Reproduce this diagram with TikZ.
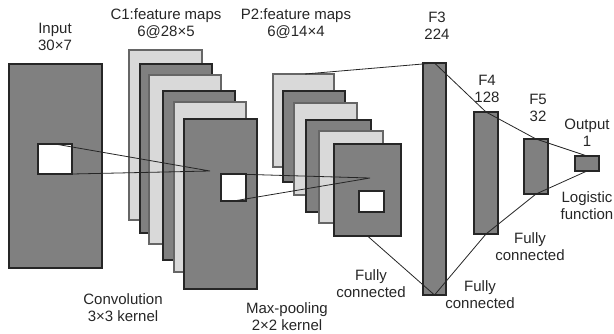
\documentclass[tikz,border=0pt]{standalone}
\usepackage{fontspec}
\setmainfont{Liberation Sans}
\definecolor{darkfill}{HTML}{808080}
\definecolor{lightfill}{HTML}{D9D9D9}
\definecolor{txt}{HTML}{262626}
\begin{document}
\begin{tikzpicture}[x=1pt,y=-1pt,
  base/.style={rectangle,inner sep=0pt,outer sep=0pt,anchor=north west,draw=black!85,line width=1.1pt},
  dk/.style={base,fill=darkfill},
  lt/.style={base,fill=lightfill,draw=black!60},
  wt/.style={base,fill=white},
  lab/.style={inner sep=0pt,text=txt,font=\fontsize{15}{17}\selectfont,align=center},
  conn/.style={draw=black!85,line width=0.8pt}]
\useasboundingbox (0,0) rectangle (614,333);
% input
\node[dk,minimum width=93pt,minimum height=204pt] (in) at (9,64) {};
\node[wt,minimum width=34pt,minimum height=30pt] (inw) at (38,144) {};
% C1 stack
\node[lt,minimum width=73pt,minimum height=170pt] (c1a) at (129,50) {};
\node[dk,minimum width=72pt,minimum height=169pt] (c1b) at (140,64) {};
\node[lt,minimum width=72pt,minimum height=169pt] (c1c) at (149,75) {};
\node[dk,minimum width=72pt,minimum height=169pt] (c1d) at (163,91) {};
\node[lt,minimum width=72pt,minimum height=170pt] (c1e) at (174,102) {};
\node[dk,minimum width=73pt,minimum height=170pt] (c1f) at (184,119) {};
\node[wt,minimum width=25pt,minimum height=27pt] (c1w) at (221,174) {};
\coordinate (c1pt) at (210,171);
% P2 stack
\node[lt,minimum width=61pt,minimum height=93pt] (p2a) at (273,74) {};
\node[dk,minimum width=62pt,minimum height=91pt] (p2b) at (283,91) {};
\node[lt,minimum width=63pt,minimum height=92pt] (p2c) at (294,103) {};
\node[dk,minimum width=65pt,minimum height=92pt] (p2d) at (306,120) {};
\node[lt,minimum width=64pt,minimum height=92pt] (p2e) at (319,131) {};
\node[dk,minimum width=67pt,minimum height=92pt] (p2f) at (334,144) {};
\node[wt,minimum width=25pt,minimum height=21pt] (p2w) at (359,191) {};
\coordinate (p2pt) at (370,178);
\coordinate (p2top) at (305,74);
% fully connected layers
\node[dk,minimum width=23pt,minimum height=232pt] (f3) at (423,63) {};
\node[dk,minimum width=24pt,minimum height=122pt] (f4) at (474,112) {};
\node[dk,minimum width=24pt,minimum height=55pt] (f5) at (524,139) {};
\node[dk,minimum width=24pt,minimum height=15pt] (out) at (575,156) {};
% connectors
\draw[conn] (inw.north) -- (c1pt) -- (inw.south east);
\draw[conn] (c1w.north) -- (p2pt) -- (c1w.south);
\draw[conn] (p2top) -- (f3.north);
\draw[conn] (f3.north) -- (f4.north) -- (f5.north) -- (out.north);
\draw[conn] (out.south) -- (f5.south) -- (f4.south) -- (f3.south) -- (p2f.south);
% labels
\node[lab] (tin) at (55,37) {Input\\30×7};
\node[lab] (tc1) at (166,24) {C1:feature maps\\6@28×5};
\node[lab] (tp2) at (296,24) {P2:feature maps\\6@14×4};
\node[lab] (tf3) at (437,26) {F3\\224};
\node[lab] (tf4) at (487,89) {F4\\128};
\node[lab] (tf5) at (538,108) {F5\\32};
\node[lab] (tout) at (587,133) {Output\\1};
\node[lab] (tlog) at (587,206) {Logistic\\function};
\node[lab] (tfc1) at (530,247) {Fully\\connected};
\node[lab] (tfc2) at (480,295) {Fully\\connected};
\node[lab] (tfc3) at (371,284) {Fully\\connected};
\node[lab] (tconv) at (123,308) {Convolution\\3×3 kernel};
\node[lab] (tpool) at (287,317) {Max-pooling\\2×2 kernel};
\end{tikzpicture}
\end{document}
